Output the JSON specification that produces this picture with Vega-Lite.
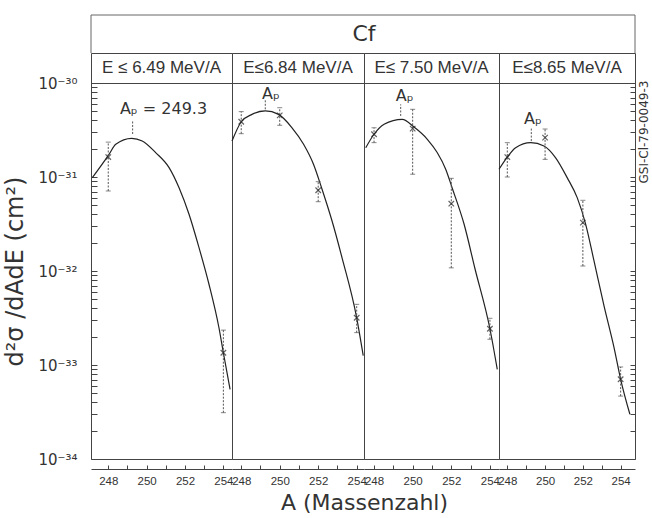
{
  "$schema": "https://vega.github.io/schema/vega-lite/v6.json",
  "padding": {"left": 3, "top": 14, "right": 4, "bottom": 2},
  "background": "white",
  "columns": 4,
  "align": "each",
  "bounds": "flush",
  "spacing": 0,
  "title": {"text": "A (Massenzahl)", "orient": "bottom", "anchor": "middle", "fontSize": 22, "font": "DejaVu Sans", "fontWeight": "normal", "color": "#333", "offset": 6, "dx": 38},
  "config": {
    "view": {"stroke": "#444", "strokeWidth": 1},
    "axis": {"grid": false, "domainColor": "#444", "tickColor": "#444", "labelColor": "#333", "titleColor": "#333", "labelFont": "DejaVu Sans", "titleFont": "DejaVu Sans", "titleFontWeight": "normal"},
    "text": {"font": "DejaVu Sans", "color": "#333"}
  },
  "datasets": {
    "edges": [{"e": 0}, {"e": 1}],
    "curve": [
      {"panel": 1, "A": 247.17, "v": 9.84e-32}, {"panel": 1, "A": 248.04, "v": 1.74e-31}, {"panel": 1, "A": 248.39, "v": 2.23e-31}, {"panel": 1, "A": 249.22, "v": 2.58e-31}, {"panel": 1, "A": 249.77, "v": 2.42e-31}, {"panel": 1, "A": 250.47, "v": 1.82e-31}, {"panel": 1, "A": 251.17, "v": 1.26e-31}, {"panel": 1, "A": 251.69, "v": 7.69e-32}, {"panel": 1, "A": 252.21, "v": 4.01e-32}, {"panel": 1, "A": 252.73, "v": 1.77e-32}, {"panel": 1, "A": 253.25, "v": 7.23e-33}, {"panel": 1, "A": 253.77, "v": 2.49e-33}, {"panel": 1, "A": 254.0, "v": 1.35e-33}, {"panel": 1, "A": 254.35, "v": 5.51e-34},
      {"panel": 2, "A": 247.52, "v": 2.41e-31}, {"panel": 2, "A": 248.0, "v": 3.87e-31}, {"panel": 2, "A": 248.56, "v": 4.64e-31}, {"panel": 2, "A": 249.25, "v": 5.04e-31}, {"panel": 2, "A": 249.94, "v": 4.64e-31}, {"panel": 2, "A": 250.64, "v": 3.34e-31}, {"panel": 2, "A": 251.24, "v": 2.23e-31}, {"panel": 2, "A": 251.76, "v": 1.36e-31}, {"panel": 2, "A": 252.2, "v": 7.4e-32}, {"panel": 2, "A": 252.72, "v": 3.4e-32}, {"panel": 2, "A": 253.24, "v": 1.38e-32}, {"panel": 2, "A": 254.0, "v": 3.18e-33}, {"panel": 2, "A": 254.34, "v": 1.26e-33},
      {"panel": 3, "A": 247.57, "v": 2.05e-31}, {"panel": 3, "A": 248.0, "v": 2.85e-31}, {"panel": 3, "A": 248.52, "v": 3.64e-31}, {"panel": 3, "A": 249.46, "v": 4.11e-31}, {"panel": 3, "A": 250.07, "v": 3.4e-31}, {"panel": 3, "A": 250.76, "v": 2.52e-31}, {"panel": 3, "A": 251.27, "v": 1.82e-31}, {"panel": 3, "A": 251.71, "v": 1.21e-31}, {"panel": 3, "A": 252.05, "v": 7.6e-32}, {"panel": 3, "A": 252.66, "v": 3.16e-32}, {"panel": 3, "A": 253.23, "v": 1.05e-32}, {"panel": 3, "A": 254.0, "v": 2.43e-33}, {"panel": 3, "A": 254.38, "v": 9.0e-34},
      {"panel": 4, "A": 247.56, "v": 1.21e-31}, {"panel": 4, "A": 248.0, "v": 1.63e-31}, {"panel": 4, "A": 248.44, "v": 2.05e-31}, {"panel": 4, "A": 249.24, "v": 2.32e-31}, {"panel": 4, "A": 249.94, "v": 2.14e-31}, {"panel": 4, "A": 250.56, "v": 1.6e-31}, {"panel": 4, "A": 251.17, "v": 9.84e-32}, {"panel": 4, "A": 251.7, "v": 6.03e-32}, {"panel": 4, "A": 252.15, "v": 3.14e-32}, {"panel": 4, "A": 252.59, "v": 1.28e-32}, {"panel": 4, "A": 253.12, "v": 4.25e-33}, {"panel": 4, "A": 253.65, "v": 1.53e-33}, {"panel": 4, "A": 254.0, "v": 7.05e-34}, {"panel": 4, "A": 254.49, "v": 2.99e-34}
    ],
    "pts": [
      {"panel": 1, "A": 248, "v": 1.63e-31, "lo": 7.1e-32, "hi": 2.35e-31},
      {"panel": 1, "A": 254, "v": 1.35e-33, "lo": 3.11e-34, "hi": 2.35e-33},
      {"panel": 2, "A": 248, "v": 3.87e-31, "lo": 2.89e-31, "hi": 4.96e-31},
      {"panel": 2, "A": 250, "v": 4.53e-31, "lo": 3.55e-31, "hi": 5.46e-31},
      {"panel": 2, "A": 252, "v": 7.23e-32, "lo": 5.46e-32, "hi": 8.92e-32},
      {"panel": 2, "A": 254, "v": 3.18e-33, "lo": 2.21e-33, "hi": 4.42e-33},
      {"panel": 3, "A": 248, "v": 2.85e-31, "lo": 2.32e-31, "hi": 3.34e-31},
      {"panel": 3, "A": 250, "v": 3.27e-31, "lo": 1.07e-31, "hi": 5.25e-31},
      {"panel": 3, "A": 252, "v": 5.2e-32, "lo": 1.08e-32, "hi": 9.68e-32},
      {"panel": 3, "A": 254, "v": 2.43e-33, "lo": 1.88e-33, "hi": 3.14e-33},
      {"panel": 4, "A": 248, "v": 1.63e-31, "lo": 1.0e-31, "hi": 2.32e-31},
      {"panel": 4, "A": 250, "v": 2.62e-31, "lo": 1.54e-31, "hi": 3.24e-31},
      {"panel": 4, "A": 252, "v": 3.27e-32, "lo": 1.13e-32, "hi": 5.65e-32},
      {"panel": 4, "A": 254, "v": 7.05e-34, "lo": 4.67e-34, "hi": 9.53e-34}
    ],
    "ann": [
      {"panel": 1, "label": "Aₚ = 249.3", "tA": 250.88, "v": 5.28e-31, "A": 249.27, "lo": 2.87e-31, "hi": 4.03e-31},
      {"panel": 2, "label": "Aₚ", "tA": 249.54, "v": 7.58e-31, "A": 249.25, "lo": 5.25e-31, "hi": 6.71e-31},
      {"panel": 3, "label": "Aₚ", "tA": 249.59, "v": 7.27e-31, "A": 249.38, "lo": 4.46e-31, "hi": 5.93e-31},
      {"panel": 4, "label": "Aₚ", "tA": 249.36, "v": 4.11e-31, "A": 249.27, "lo": 2.41e-31, "hi": 3.34e-31}
    ]
  },
  "concat": [
    {
      "width": 141, "height": 38, "view": {"stroke": null},
      "layer": [
        {"data": {"name": "edges"}, "transform": [{"filter": "datum.e == 1"}], "mark": {"type": "rule", "color": "#666"},
         "encoding": {"y": {"field": "e", "type": "quantitative", "scale": {"domain": [0, 1]}, "axis": null}}},
        {"data": {"name": "edges"}, "transform": [{"filter": "datum.e == 0"}], "mark": {"type": "rule", "color": "#666"},
         "encoding": {"x": {"field": "e", "type": "quantitative", "scale": {"domain": [0, 1]}, "axis": null}}}
      ]
    },
    {
      "width": 132, "height": 38, "view": {"stroke": null},
      "layer": [
        {"data": {"name": "edges"}, "transform": [{"filter": "datum.e == 1"}], "mark": {"type": "rule", "color": "#666"},
         "encoding": {"y": {"field": "e", "type": "quantitative", "scale": {"domain": [0, 1]}, "axis": null}}},
        {"data": {"values": [{"t": "Cf", "px": 1, "py": 0.5}]}, "mark": {"type": "text", "fontSize": 22},
         "encoding": {"x": {"field": "px", "type": "quantitative", "scale": {"domain": [0, 1]}, "axis": null}, "y": {"field": "py", "type": "quantitative", "axis": null}, "text": {"field": "t"}}}
      ]
    },
    {
      "width": 135, "height": 38, "view": {"stroke": null},
      "layer": [
        {"data": {"name": "edges"}, "transform": [{"filter": "datum.e == 1"}], "mark": {"type": "rule", "color": "#666"},
         "encoding": {"y": {"field": "e", "type": "quantitative", "scale": {"domain": [0, 1]}, "axis": null}}}
      ]
    },
    {
      "width": 136, "height": 38, "view": {"stroke": null},
      "layer": [
        {"data": {"name": "edges"}, "transform": [{"filter": "datum.e == 1"}], "mark": {"type": "rule", "color": "#666"},
         "encoding": {"y": {"field": "e", "type": "quantitative", "scale": {"domain": [0, 1]}, "axis": null}}},
        {"data": {"name": "edges"}, "transform": [{"filter": "datum.e == 1"}], "mark": {"type": "rule", "color": "#666"},
         "encoding": {"x": {"field": "e", "type": "quantitative", "scale": {"domain": [0, 1]}, "axis": null}}}
      ]
    },
    {"width": 141, "height": 30, "data": {"values": [{"t": "E ≤ 6.49 MeV/A"}]}, "mark": {"type": "text", "fontSize": 17, "font": "Liberation Sans"}, "encoding": {"x": {"field": "t", "type": "nominal", "axis": null}, "text": {"field": "t"}}},
    {"width": 132, "height": 30, "data": {"values": [{"t": "E≤6.84 MeV/A"}]}, "mark": {"type": "text", "fontSize": 17, "font": "Liberation Sans"}, "encoding": {"x": {"field": "t", "type": "nominal", "axis": null}, "text": {"field": "t"}}},
    {"width": 135, "height": 30, "data": {"values": [{"t": "E≤ 7.50 MeV/A"}]}, "mark": {"type": "text", "fontSize": 17, "font": "Liberation Sans"}, "encoding": {"x": {"field": "t", "type": "nominal", "axis": null}, "text": {"field": "t"}}},
    {"width": 136, "height": 30, "data": {"values": [{"t": "E≤8.65 MeV/A"}]}, "mark": {"type": "text", "fontSize": 17, "font": "Liberation Sans"}, "encoding": {"x": {"field": "t", "type": "nominal", "axis": null}, "text": {"field": "t"}}},
    {
      "width": 141, "height": 376,
      "encoding": {"x": {"field": "A", "type": "quantitative", "title": null, "scale": {"domain": [247.10, 254.45], "nice": false, "zero": false}, "axis": {"values": [248, 249, 250, 251, 252, 253, 254], "labelExpr": "datum.value % 2 == 0 ? datum.label : ''", "offset": 10, "tickSize": -4, "labelPadding": 10, "labelFontSize": 11.5, "labelFont": "Liberation Sans", "grid": false}}},
      "layer": [
        {"data": {"name": "curve"}, "transform": [{"filter": "datum.panel == 1"}], "mark": {"type": "line", "interpolate": "monotone", "color": "#222", "strokeWidth": 1.2},
         "encoding": {"y": {"field": "v", "type": "quantitative", "title": "d²σ /dAdE (cm²)", "scale": {"type": "log", "domain": [1e-34, 1e-30], "nice": false},
           "axis": {"orient": "left", "values": [1e-34,2e-34,3e-34,4e-34,5e-34,6e-34,7e-34,8e-34,9e-34,1e-33,2e-33,3e-33,4e-33,5e-33,6e-33,7e-33,8e-33,9e-33,1e-32,2e-32,3e-32,4e-32,5e-32,6e-32,7e-32,8e-32,9e-32,1e-31,2e-31,3e-31,4e-31,5e-31,6e-31,7e-31,8e-31,9e-31,1e-30],
             "labelExpr": "abs(log(datum.value)/LN10 - round(log(datum.value)/LN10)) > 0.01 ? '' : '10' + (round(log(datum.value)/LN10) == -30 ? '⁻³⁰' : round(log(datum.value)/LN10) == -31 ? '⁻³¹' : round(log(datum.value)/LN10) == -32 ? '⁻³²' : round(log(datum.value)/LN10) == -33 ? '⁻³³' : '⁻³⁴')",
             "labelOverlap": false, "tickSize": -6, "domain": false, "labelPadding": 20, "labelFontSize": 15, "titleFontSize": 24, "titlePadding": 10}}}},
        {"data": {"name": "pts"}, "transform": [{"filter": "datum.panel == 1"}], "mark": {"type": "errorbar", "ticks": true, "rule": {"strokeDash": [2, 1.5]}, "color": "#555"},
         "encoding": {"y": {"field": "lo", "type": "quantitative", "title": "d²σ /dAdE (cm²)"}, "y2": {"field": "hi"}}},
        {"data": {"name": "pts"}, "transform": [{"filter": "datum.panel == 1"}], "mark": {"type": "point", "shape": "M-1,-1L1,1M-1,1L1,-1", "size": 30, "filled": false, "stroke": "#222", "strokeWidth": 1.2},
         "encoding": {"y": {"field": "v", "type": "quantitative", "title": "d²σ /dAdE (cm²)"}}},
        {"data": {"name": "ann"}, "transform": [{"filter": "datum.panel == 1"}], "mark": {"type": "rule", "strokeDash": [2, 1.5], "color": "#555"},
         "encoding": {"y": {"field": "lo", "type": "quantitative", "title": "d²σ /dAdE (cm²)"}, "y2": {"field": "hi"}}},
        {"data": {"name": "ann"}, "transform": [{"filter": "datum.panel == 1"}], "mark": {"type": "text", "fontSize": 16},
         "encoding": {"x": {"field": "tA", "type": "quantitative"}, "y": {"field": "v", "type": "quantitative", "title": "d²σ /dAdE (cm²)"}, "text": {"field": "label"}}}
      ]
    },
    {
      "width": 132, "height": 376,
      "encoding": {"x": {"field": "A", "type": "quantitative", "title": null, "scale": {"domain": [247.52, 254.38], "nice": false, "zero": false}, "axis": {"values": [248, 249, 250, 251, 252, 253, 254], "labelExpr": "datum.value % 2 == 0 ? datum.label : ''", "offset": 10, "tickSize": -4, "labelPadding": 10, "labelFontSize": 11.5, "labelFont": "Liberation Sans", "grid": false}}},
      "layer": [
        {"data": {"name": "curve"}, "transform": [{"filter": "datum.panel == 2"}], "mark": {"type": "line", "interpolate": "monotone", "color": "#222", "strokeWidth": 1.2},
         "encoding": {"y": {"field": "v", "type": "quantitative", "scale": {"type": "log", "domain": [1e-34, 1e-30], "nice": false}, "axis": null}}},
        {"data": {"name": "pts"}, "transform": [{"filter": "datum.panel == 2"}], "mark": {"type": "errorbar", "ticks": true, "rule": {"strokeDash": [2, 1.5]}, "color": "#555"},
         "encoding": {"y": {"field": "lo", "type": "quantitative", "axis": null}, "y2": {"field": "hi"}}},
        {"data": {"name": "pts"}, "transform": [{"filter": "datum.panel == 2"}], "mark": {"type": "point", "shape": "M-1,-1L1,1M-1,1L1,-1", "size": 30, "filled": false, "stroke": "#222", "strokeWidth": 1.2},
         "encoding": {"y": {"field": "v", "type": "quantitative", "axis": null}}},
        {"data": {"name": "ann"}, "transform": [{"filter": "datum.panel == 2"}], "mark": {"type": "rule", "strokeDash": [2, 1.5], "color": "#555"},
         "encoding": {"y": {"field": "lo", "type": "quantitative", "axis": null}, "y2": {"field": "hi"}}},
        {"data": {"name": "ann"}, "transform": [{"filter": "datum.panel == 2"}], "mark": {"type": "text", "fontSize": 16},
         "encoding": {"x": {"field": "tA", "type": "quantitative"}, "y": {"field": "v", "type": "quantitative", "axis": null}, "text": {"field": "label"}}}
      ]
    },
    {
      "width": 135, "height": 376,
      "encoding": {"x": {"field": "A", "type": "quantitative", "title": null, "scale": {"domain": [247.48, 254.47], "nice": false, "zero": false}, "axis": {"values": [248, 249, 250, 251, 252, 253, 254], "labelExpr": "datum.value % 2 == 0 ? datum.label : ''", "offset": 10, "tickSize": -4, "labelPadding": 10, "labelFontSize": 11.5, "labelFont": "Liberation Sans", "grid": false}}},
      "layer": [
        {"data": {"name": "curve"}, "transform": [{"filter": "datum.panel == 3"}], "mark": {"type": "line", "interpolate": "monotone", "color": "#222", "strokeWidth": 1.2},
         "encoding": {"y": {"field": "v", "type": "quantitative", "scale": {"type": "log", "domain": [1e-34, 1e-30], "nice": false}, "axis": null}}},
        {"data": {"name": "pts"}, "transform": [{"filter": "datum.panel == 3"}], "mark": {"type": "errorbar", "ticks": true, "rule": {"strokeDash": [2, 1.5]}, "color": "#555"},
         "encoding": {"y": {"field": "lo", "type": "quantitative", "axis": null}, "y2": {"field": "hi"}}},
        {"data": {"name": "pts"}, "transform": [{"filter": "datum.panel == 3"}], "mark": {"type": "point", "shape": "M-1,-1L1,1M-1,1L1,-1", "size": 30, "filled": false, "stroke": "#222", "strokeWidth": 1.2},
         "encoding": {"y": {"field": "v", "type": "quantitative", "axis": null}}},
        {"data": {"name": "ann"}, "transform": [{"filter": "datum.panel == 3"}], "mark": {"type": "rule", "strokeDash": [2, 1.5], "color": "#555"},
         "encoding": {"y": {"field": "lo", "type": "quantitative", "axis": null}, "y2": {"field": "hi"}}},
        {"data": {"name": "ann"}, "transform": [{"filter": "datum.panel == 3"}], "mark": {"type": "text", "fontSize": 16},
         "encoding": {"x": {"field": "tA", "type": "quantitative"}, "y": {"field": "v", "type": "quantitative", "axis": null}, "text": {"field": "label"}}}
      ]
    },
    {
      "width": 136, "height": 376,
      "encoding": {"x": {"field": "A", "type": "quantitative", "title": null, "scale": {"domain": [247.56, 254.76], "nice": false, "zero": false}, "axis": {"values": [248, 249, 250, 251, 252, 253, 254], "labelExpr": "datum.value % 2 == 0 ? datum.label : ''", "offset": 10, "tickSize": -4, "labelPadding": 10, "labelFontSize": 11.5, "labelFont": "Liberation Sans", "grid": false}}},
      "layer": [
        {"data": {"name": "curve"}, "transform": [{"filter": "datum.panel == 4"}], "mark": {"type": "line", "interpolate": "monotone", "color": "#222", "strokeWidth": 1.2},
         "encoding": {"y": {"field": "v", "type": "quantitative", "title": "GSI-Cl-79-0049-3", "scale": {"type": "log", "domain": [1e-34, 1e-30], "nice": false},
           "axis": {"orient": "right", "values": [1e-34,2e-34,3e-34,4e-34,5e-34,6e-34,7e-34,8e-34,9e-34,1e-33,2e-33,3e-33,4e-33,5e-33,6e-33,7e-33,8e-33,9e-33,1e-32,2e-32,3e-32,4e-32,5e-32,6e-32,7e-32,8e-32,9e-32,1e-31,2e-31,3e-31,4e-31,5e-31,6e-31,7e-31,8e-31,9e-31,1e-30],
             "labels": false, "tickSize": -5, "domain": false, "titleAngle": 270, "titleAlign": "left", "titleBaseline": "middle", "titleX": 8, "titleY": 100, "titleFontSize": 12}}}},
        {"data": {"name": "pts"}, "transform": [{"filter": "datum.panel == 4"}], "mark": {"type": "errorbar", "ticks": true, "rule": {"strokeDash": [2, 1.5]}, "color": "#555"},
         "encoding": {"y": {"field": "lo", "type": "quantitative", "title": "GSI-Cl-79-0049-3"}, "y2": {"field": "hi"}}},
        {"data": {"name": "pts"}, "transform": [{"filter": "datum.panel == 4"}], "mark": {"type": "point", "shape": "M-1,-1L1,1M-1,1L1,-1", "size": 30, "filled": false, "stroke": "#222", "strokeWidth": 1.2},
         "encoding": {"y": {"field": "v", "type": "quantitative", "title": "GSI-Cl-79-0049-3"}}},
        {"data": {"name": "ann"}, "transform": [{"filter": "datum.panel == 4"}], "mark": {"type": "rule", "strokeDash": [2, 1.5], "color": "#555"},
         "encoding": {"y": {"field": "lo", "type": "quantitative", "title": "GSI-Cl-79-0049-3"}, "y2": {"field": "hi"}}},
        {"data": {"name": "ann"}, "transform": [{"filter": "datum.panel == 4"}], "mark": {"type": "text", "fontSize": 16},
         "encoding": {"x": {"field": "tA", "type": "quantitative"}, "y": {"field": "v", "type": "quantitative", "title": "GSI-Cl-79-0049-3"}, "text": {"field": "label"}}}
      ]
    }
  ]
}
